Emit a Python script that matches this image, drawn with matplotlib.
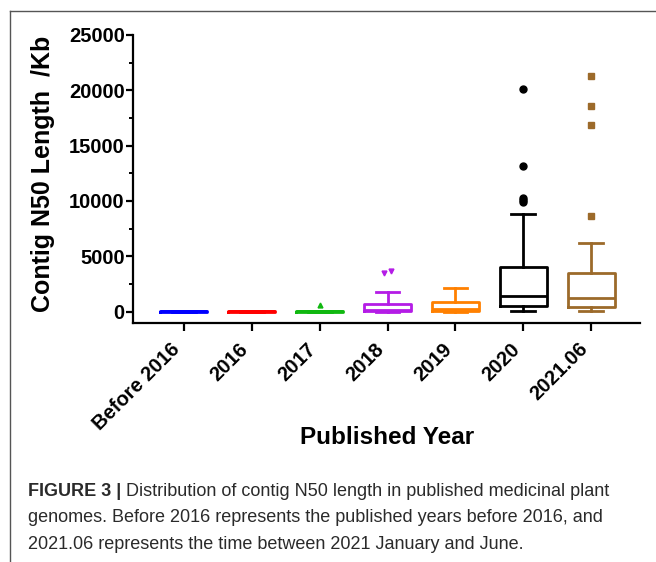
import matplotlib
matplotlib.use("Agg")
import matplotlib.pyplot as plt
from matplotlib.lines import Line2D
from matplotlib.ticker import MultipleLocator

# ---------------------------------------------------------------
# Data (Contig N50 length, Kb)
# ---------------------------------------------------------------
years = ["Before 2016", "2016", "2017", "2018", "2019", "2020", "2021.06"]
q1 = [10, 10, 10, 70, 100, 530, 410]
med = [50, 50, 50, 150, 200, 1430, 1200]
q3 = [100, 100, 100, 680, 830, 4000, 3490]
whis_lo = [10, 10, 10, 0, 0, 40, 40]
whis_hi = [100, 100, 100, 1780, 2100, 8860, 6230]
fliers = [
    [],
    [],
    [590],
    [3460, 3670],
    [],
    [20150, 13150, 10300, 10100, 9950],
    [21300, 18600, 16850, 8650],
]
colors = ["#0000ff", "#ff0000", "#10b810", "#b41ce6", "#ff8000", "#000000", "#9c6a2a"]
markers = ["o", "o", "^", "v", "o", "o", "s"]
marker_sizes = [4, 4, 3.5, 3.5, 4, 5, 4.5]
# small horizontal spread used by Prism for overlapping outliers
flier_spread = [0, 0, 0, 0.09, 0, 0, 0]

W, H = 656, 562
fig = plt.figure(figsize=(W / 100, H / 100), dpi=100)
ax = fig.add_axes([133 / W, 1 - 322.7 / H, (640 - 133) / W, (322.7 - 35) / H])

font = "Liberation Sans"
lw = 2.0

for i in range(len(years)):
    c = colors[i]
    st = dict(q1=q1[i], med=med[i], q3=q3[i], whislo=whis_lo[i],
              whishi=whis_hi[i], fliers=[], label=years[i])
    ax.bxp([st], positions=[i], widths=0.69, capwidths=0.35,
           showfliers=False, patch_artist=False,
           boxprops=dict(color=c, linewidth=lw),
           medianprops=dict(color=c, linewidth=lw),
           whiskerprops=dict(color=c, linewidth=lw),
           capprops=dict(color=c, linewidth=lw))
    n = len(fliers[i])
    if n:
        if flier_spread[i] and n > 1:
            xs = [i - flier_spread[i] / 2 + flier_spread[i] * k / (n - 1) for k in range(n)]
        else:
            xs = [i] * n
        ax.plot(xs, fliers[i], linestyle="none", marker=markers[i],
                markersize=marker_sizes[i], color=c, markeredgecolor=c)

ax.set_xlim(-0.75, 6.72)
ax.set_ylim(-1000, 25000)
ax.set_xticks(range(len(years)))
ax.set_xticklabels(years, rotation=45, ha="right", va="top",
                   fontsize=14.5, fontweight="bold", family=font)
ax.yaxis.set_major_locator(MultipleLocator(5000))
ax.yaxis.set_minor_locator(MultipleLocator(2500))
for lab in ax.get_yticklabels():
    lab.set_fontsize(14.5)
    lab.set_fontweight("bold")
    lab.set_family(font)

for side in ["top", "right"]:
    ax.spines[side].set_visible(False)
for side in ["left", "bottom"]:
    ax.spines[side].set_linewidth(1.6)
ax.tick_params(axis="y", which="major", length=5, width=1.6, pad=1)
ax.tick_params(axis="y", which="minor", length=3, width=1.4)
ax.tick_params(axis="x", which="major", length=6, width=1.6, pad=6)

fig.text(43.5 / W, 1 - 174 / H, "Contig N50 Length  /Kb", rotation=90,
         ha="center", va="center", fontsize=18, fontweight="bold", family=font)
fig.text(387.5 / W, 1 - 444 / H, "Published Year", ha="center", va="baseline",
         fontsize=17.5, fontweight="bold", family=font)

# frame lines of the figure panel
fig.add_artist(Line2D([10 / W, 1], [1 - 11 / H, 1 - 11 / H], color="#555555", lw=1))
fig.add_artist(Line2D([10 / W, 10 / W], [0, 1 - 11 / H], color="#555555", lw=1))

# caption
cap_color = "#2a2a2a"
line1 = "Distribution of contig N50 length in published medicinal plant"
line2 = "genomes. Before 2016 represents the published years before 2016, and"
line3 = "2021.06 represents the time between 2021 January and June."
x0 = 28
renderer = fig.canvas.get_renderer()

# fit caption size to the width of the second line in the reference
probe = fig.text(x0 / W, 0.5, line2, fontsize=10, family=font)
pw = probe.get_window_extent(renderer).width
probe.remove()
cap_size = 10 * (606 - x0) / pw

bold_part = fig.text(x0 / W, 1 - 496 / H, "FIGURE 3 |", fontsize=cap_size,
                     fontweight="bold", family=font, va="baseline", color=cap_color)
bb = bold_part.get_window_extent(renderer)
fig.text((bb.x1 + 5) / W, 1 - 496 / H, line1, fontsize=cap_size, family=font,
         va="baseline", color=cap_color)
fig.text(x0 / W, 1 - 522.5 / H, line2, fontsize=cap_size, family=font,
         va="baseline", color=cap_color)
fig.text(x0 / W, 1 - 549 / H, line3, fontsize=cap_size, family=font,
         va="baseline", color=cap_color)

fig.savefig("out.png", dpi=100)
